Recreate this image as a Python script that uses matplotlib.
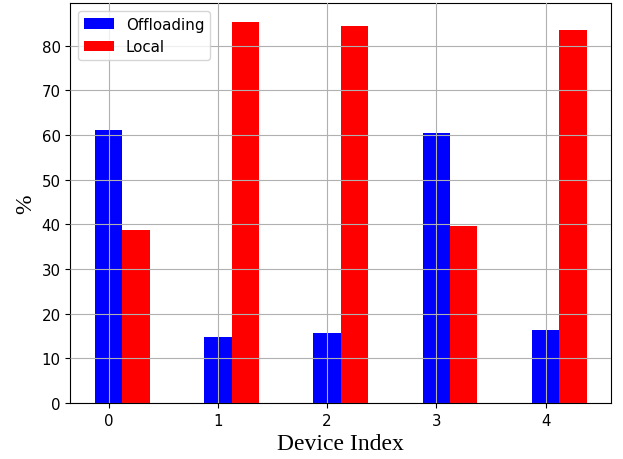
import numpy as np
import matplotlib
matplotlib.use('Agg')
import matplotlib.pyplot as plt

devices = [0, 1, 2, 3, 4]
offloading = [61.2, 14.7, 15.6, 60.4, 16.4]
local = [38.8, 85.3, 84.4, 39.6, 83.6]

x = np.arange(len(devices))
width = 0.25

plt.rcParams['font.size'] = 10.8

fig = plt.figure(figsize=(6.23, 4.6), dpi=100)
ax = fig.add_axes([0.113, 0.122, 0.868, 0.869])

ax.bar(x, offloading, width, color='blue', label='Offloading')
ax.bar(x + width, local, width, color='red', label='Local')

ax.set_xticks(x)
ax.set_xticklabels([str(d) for d in devices])
ax.set_xlabel('Device Index', family='Liberation Serif', fontsize=17)
ax.set_ylabel('%', family='Liberation Serif', fontsize=17)
ax.grid(True)
ax.set_axisbelow(False)
ax.legend(loc='upper left')

fig.savefig('out.png')
